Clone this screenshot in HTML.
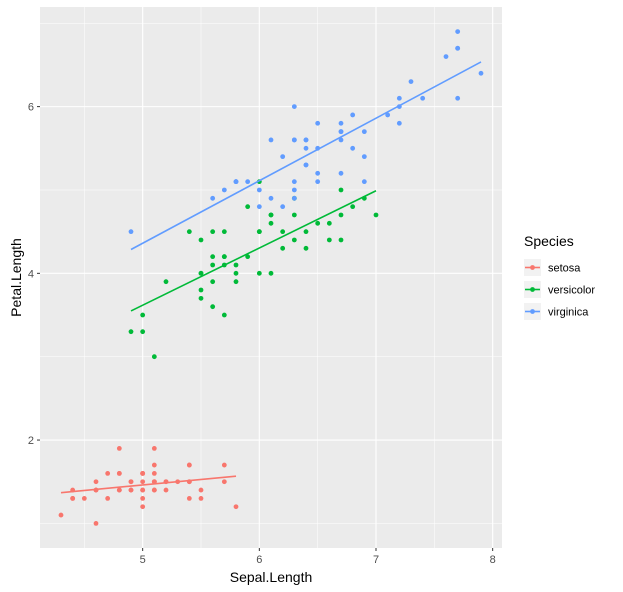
<!DOCTYPE html>
<html><head><meta charset="utf-8"><style>
body{margin:0;background:#fff;}
svg{display:block;font-family:"Liberation Sans",Arial,sans-serif;}
</style></head><body>
<svg id="chart" width="623" height="592"></svg>
<script>
const species=["setosa","versicolor","virginica"];
const colors=["#F8766D","#00BA38","#619CFF"];
const sepalSetosa=[5.1,4.9,4.7,4.6,5.0,5.4,4.6,5.0,4.4,4.9,5.4,4.8,4.8,4.3,5.8,5.7,5.4,5.1,5.7,5.1,5.4,5.1,4.6,5.1,4.8,5.0,5.0,5.2,5.2,4.7,4.8,5.4,5.2,5.5,4.9,5.0,5.5,4.9,4.4,5.1,5.0,4.5,4.4,5.0,5.1,4.8,5.1,4.6,5.3,5.0];
const petalSetosa=[1.4,1.4,1.3,1.5,1.4,1.7,1.4,1.5,1.4,1.5,1.5,1.6,1.4,1.1,1.2,1.5,1.3,1.4,1.7,1.5,1.7,1.5,1.0,1.7,1.9,1.6,1.6,1.5,1.4,1.6,1.6,1.5,1.5,1.4,1.5,1.2,1.3,1.4,1.3,1.5,1.3,1.3,1.3,1.6,1.9,1.4,1.6,1.4,1.5,1.4];
const sepalVersicolor=[7.0,6.4,6.9,5.5,6.5,5.7,6.3,4.9,6.6,5.2,5.0,5.9,6.0,6.1,5.6,6.7,5.6,5.8,6.2,5.6,5.9,6.1,6.3,6.1,6.4,6.6,6.8,6.7,6.0,5.7,5.5,5.5,5.8,6.0,5.4,6.0,6.7,6.3,5.6,5.5,5.5,6.1,5.8,5.0,5.6,5.7,5.7,6.2,5.1,5.7];
const petalVersicolor=[4.7,4.5,4.9,4.0,4.6,4.5,4.7,3.3,4.6,3.9,3.5,4.2,4.0,4.7,3.6,4.4,4.5,4.1,4.5,3.9,4.8,4.0,4.9,4.7,4.3,4.4,4.8,5.0,4.5,3.5,3.8,3.7,3.9,5.1,4.5,4.5,4.7,4.4,4.1,4.0,4.4,4.6,4.0,3.3,4.2,4.2,4.2,4.3,3.0,4.1];
const sepalVirginica=[6.3,5.8,7.1,6.3,6.5,7.6,4.9,7.3,6.7,7.2,6.5,6.4,6.8,5.7,5.8,6.4,6.5,7.7,7.7,6.0,6.9,5.6,7.7,6.3,6.7,7.2,6.2,6.1,6.4,7.2,7.4,7.9,6.4,6.3,6.1,7.7,6.3,6.4,6.0,6.9,6.7,6.9,5.8,6.8,6.7,6.7,6.3,6.5,6.2,5.9];
const petalVirginica=[6.0,5.1,5.9,5.6,5.8,6.6,4.5,6.3,5.8,6.1,5.1,5.3,5.5,5.0,5.1,5.3,5.5,6.7,6.9,5.0,5.7,4.9,6.7,4.9,5.7,6.0,4.8,4.9,5.6,5.8,6.1,6.4,5.6,5.1,5.6,6.1,5.6,5.5,4.8,5.4,5.6,5.1,5.1,5.9,5.7,5.2,5.0,5.2,5.4,5.1];
const xTicks=[5,6,7,8];
const yTicks=[2,4,6];

const NS="http://www.w3.org/2000/svg";
const svg=document.getElementById('chart');
function el(t,a,p){const e=document.createElementNS(NS,t);for(const k in a)e.setAttribute(k,a[k]);(p||svg).appendChild(e);return e;}
const P={l:40,r:502,t:7,b:548};
const xs=[sepalSetosa,sepalVersicolor,sepalVirginica], ys=[petalSetosa,petalVersicolor,petalVirginica];
const allX=xs.flat(), allY=ys.flat();
let x0=Math.min(...allX),x1=Math.max(...allX),y0=Math.min(...allY),y1=Math.max(...allY);
const ex=(x1-x0)*0.05, ey=(y1-y0)*0.05; x0-=ex;x1+=ex;y0-=ey;y1+=ey;
const X=v=>P.l+(v-x0)/(x1-x0)*(P.r-P.l);
const Y=v=>P.b-(v-y0)/(y1-y0)*(P.b-P.t);

const bg=el('rect',{x:P.l,y:P.t,width:P.r-P.l,height:P.b-P.t,fill:'#EBEBEB'});


for(let i=0;i<xTicks.length+1;i++){const v=xTicks[0]-0.5+i;if(v>x0&&v<x1){const g=el('line',{x1:X(v),x2:X(v),y1:P.t,y2:P.b,stroke:'#fff','stroke-width':0.5});}}
for(let i=0;i<yTicks.length+1;i++){const v=yTicks[0]-1+2*i;if(v>y0&&v<y1){const g=el('line',{x1:P.l,x2:P.r,y1:Y(v),y2:Y(v),stroke:'#fff','stroke-width':0.5});}}
xTicks.forEach(v=>{
  const g=el('line',{x1:X(v),x2:X(v),y1:P.t,y2:P.b,stroke:'#fff','stroke-width':1.1});
  
  
  el('line',{x1:X(v),x2:X(v),y1:P.b,y2:P.b+3,stroke:'#333','stroke-width':1});
  const t=el('text',{x:X(v),y:P.b+15,'text-anchor':'middle','font-size':11,fill:'#4D4D4D'});t.textContent=v;
  
  
});
yTicks.forEach(v=>{
  const g=el('line',{x1:P.l,x2:P.r,y1:Y(v),y2:Y(v),stroke:'#fff','stroke-width':1.1});
  
  
  el('line',{x1:P.l-3,x2:P.l,y1:Y(v),y2:Y(v),stroke:'#333','stroke-width':1});
  const t=el('text',{x:P.l-6,y:Y(v)+4,'text-anchor':'end','font-size':11,fill:'#4D4D4D'});t.textContent=v;
  
  
});
species.forEach((s,k)=>{
  const xv=xs[k],yv=ys[k];
  xv.forEach((x,i)=>{const c=el('circle',{cx:X(x),cy:Y(yv[i]),r:2.4,fill:colors[k]});
    
    });
  const n=xv.length,mx=xv.reduce((a,b)=>a+b)/n,my=yv.reduce((a,b)=>a+b)/n;
  let sxy=0,sxx=0;xv.forEach((x,i)=>{sxy+=(x-mx)*(yv[i]-my);sxx+=(x-mx)**2;});
  const b=sxy/sxx,a=my-b*mx,lo=Math.min(...xv),hi=Math.max(...xv);
  const l=el('line',{x1:X(lo),y1:Y(a+b*lo),x2:X(hi),y2:Y(a+b*hi),stroke:colors[k],'stroke-width':1.6});
  
  
});
const xt=el('text',{x:(P.l+P.r)/2,y:582,'text-anchor':'middle','font-size':14,fill:'#000'});xt.textContent='Sepal.Length';


const yt=el('text',{x:0,y:0,'text-anchor':'middle','font-size':14,fill:'#000',transform:`translate(21,${(P.t+P.b)/2}) rotate(-90)`});yt.textContent='Petal.Length';


const lt=el('text',{x:524,y:246,'font-size':14,fill:'#000'});lt.textContent='Species';


species.forEach((s,k)=>{
  const y=259+k*22;
  const g=el('g',{});
  
  
  el('rect',{x:524,y:y,width:17,height:17,fill:'#F2F2F2'},g);
  el('line',{x1:525,x2:540,y1:y+8.5,y2:y+8.5,stroke:colors[k],'stroke-width':1.6},g);
  el('circle',{cx:532.5,cy:y+8.5,r:2.4,fill:colors[k]},g);
  const t=el('text',{x:548,y:y+12.5,'font-size':11,fill:'#000'},g);t.textContent=s;
});
</script>
</body></html>
